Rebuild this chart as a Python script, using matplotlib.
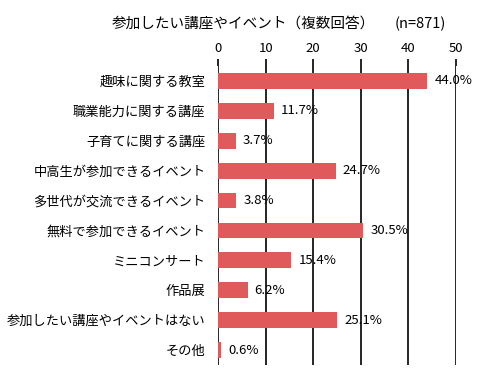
import matplotlib.pyplot as plt

plt.rcParams['font.family'] = ['Noto Sans CJK JP', 'DejaVu Sans']

categories = [
    "趣味に関する教室",
    "職業能力に関する講座",
    "子育てに関する講座",
    "中高生が参加できるイベント",
    "多世代が交流できるイベント",
    "無料で参加できるイベント",
    "ミニコンサート",
    "作品展",
    "参加したい講座やイベントはない",
    "その他",
]
values = [44.0, 11.7, 3.7, 24.7, 3.8, 30.5, 15.4, 6.2, 25.1, 0.6]
ticks = [0, 10, 20, 30, 40, 50]

fig = plt.figure(figsize=(4.81, 3.79), dpi=100)
ax = fig.add_axes([218 / 481, 14 / 379, 238 / 481, 299 / 379])

pos = list(range(len(categories)))
ax.barh(pos, values, height=0.53, color="#E05A5C", zorder=3)
for y, v in zip(pos, values):
    ax.text(v + 1.5, y, f"{v:.1f}%", va="center", ha="left", fontsize=9.5,
            family=["Liberation Sans Narrow", "Noto Sans CJK JP", "DejaVu Sans"], zorder=4)

ax.set_xlim(0, 50)
ax.set_ylim(len(categories) - 0.5, -0.5)
ax.set_xticks(ticks)
ax.xaxis.tick_top()
ax.tick_params(axis="x", length=5, width=1.2, color="black", labelsize=9.5, pad=3)
ax.tick_params(axis="y", length=0, labelsize=9.5, pad=9)
ax.set_yticks(pos)
ax.set_yticklabels(categories)
ax.grid(axis="x", color="black", linewidth=1.2, zorder=1)
for s in ax.spines.values():
    s.set_visible(False)

fig.text(243 / 481, 1 - 24 / 379, "参加したい講座やイベント（複数回答）", ha="center", va="center", fontsize=10.5)
fig.text(420 / 481, 1 - 24 / 379, "(n=871)", ha="center", va="center", fontsize=10.5)

fig.savefig("out.png", dpi=100)
